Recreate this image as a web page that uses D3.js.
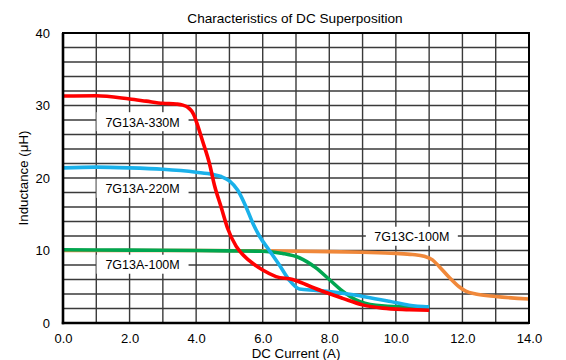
<!DOCTYPE html>
<html><head><meta charset="utf-8">
<script src="https://cdn.jsdelivr.net/npm/d3@7/dist/d3.min.js"></script>
<style>body{margin:0;background:#fff}svg{display:block}text{font-family:"Liberation Sans",Arial,sans-serif}</style>
</head><body><svg id="c" width="566" height="360"></svg>
<script>
const title = "Characteristics of DC Superposition";
const xLabel = "DC Current (A)";
const yLabel = "Inductance (\u03bcH)";
const xTicks = [0, 2, 4, 6, 8, 10, 12, 14];
const yTicks = [0, 10, 20, 30, 40];
const seriesNames = ["7G13C-100M", "7G13A-100M", "7G13A-220M", "7G13A-330M"];
const seriesColors = ["#f0883a", "#00a650", "#1ab1ea", "#ff0000"];
const c100 = [[0,10.0],[2,10.0],[4,10.0],[6,9.95],[8,9.85],[9,9.75],[10,9.6],[10.5,9.45],[10.85,9.2],[11.1,8.7],[11.3,7.8],[11.6,6.3],[11.9,5.0],[12.1,4.4],[12.4,4.0],[13.0,3.65],[14,3.3]];
const a100 = [[0,10.1],[2,10.05],[4,10.0],[5,9.95],[6,9.9],[6.6,9.6],[7.1,9.0],[7.6,7.6],[8.0,6.0],[8.4,4.4],[8.8,3.2],[9.4,2.45],[10.1,2.25],[11.0,2.25]];
const a220 = [[0,21.4],[1,21.5],[2,21.4],[3,21.2],[4,20.8],[4.5,20.5],[4.75,20.2],[5.0,19.6],[5.25,18.3],[5.5,16],[5.7,13.8],[5.9,12],[6.2,10],[6.5,8],[6.8,5.9],[7.1,4.7],[7.6,4.5],[8.4,4.1],[9.1,3.6],[9.8,3.0],[10.4,2.45],[11.0,2.2]];
const a330 = [[0,31.3],[1,31.35],[2,30.9],[2.5,30.6],[3,30.3],[3.4,30.2],[3.6,30.05],[3.75,29.75],[3.87,29.2],[3.95,28.5],[4.02,27.6],[4.2,25],[4.4,22],[4.55,19],[4.75,16],[4.95,13],[5.2,10.6],[5.6,8.6],[6.0,7.3],[6.4,6.4],[6.9,6.0],[7.4,5.1],[7.9,4.2],[8.4,3.4],[9.0,2.5],[9.6,2.05],[10.4,1.85],[11.0,1.75]];
const seriesData = [c100, a100, a220, a330];
// label anchors in data units (centre of label)
const labelX = [10.48, 2.39, 2.39, 2.39];
const labelY = [11.9, 8.04, 18.5, 27.7];

const svg = d3.select("#c");
const m = {l: 63, r: 37, t: 33, b: 37};
const W = 566, H = 360;
const x = d3.scaleLinear().domain([0, 14]).range([m.l, W - m.r]);
const y = d3.scaleLinear().domain([0, 40]).range([H - m.b, m.t]);

// grid
const g = svg.append("g");
g.selectAll("line.v").data(d3.range(1, 14)).join("line")
  .attr("x1", d => x(d)).attr("x2", d => x(d)).attr("y1", y(0)).attr("y2", y(40))
  .attr("stroke", "#3a3a3a").attr("stroke-width", 1.4);
g.selectAll("line.h").data(d3.range(2, 40, 2)).join("line")
  .attr("y1", d => y(d)).attr("y2", d => y(d)).attr("x1", x(0)).attr("x2", x(14))
  .attr("stroke", "#3a3a3a").attr("stroke-width", 1.4);

// axes (labels only)
const xa = svg.append("g").attr("transform", `translate(0,${y(0)})`)
  .call(d3.axisBottom(x).tickValues(xTicks).tickFormat(d3.format(".1f")).tickSize(0).tickPadding(11));
xa.select(".domain").remove();
xa.selectAll("text").attr("font-size", 13).attr("fill", "#000").attr("font-family", "Liberation Sans, Arial, sans-serif");
const ya = svg.append("g").attr("transform", `translate(${x(0)},0)`)
  .call(d3.axisLeft(y).tickValues(yTicks).tickFormat(d3.format("d")).tickSize(0).tickPadding(13));
ya.select(".domain").remove();
ya.selectAll("text").attr("font-size", 13).attr("fill", "#000").attr("font-family", "Liberation Sans, Arial, sans-serif");

// curves
const line = d3.line().x(d => x(d[0])).y(d => y(d[1])).curve(d3.curveMonotoneX);
svg.append("g").selectAll("path").data(seriesData).join("path")
  .attr("d", line).attr("fill", "none")
  .attr("stroke", (d, i) => seriesColors[i]).attr("stroke-width", 3.6)
  .attr("stroke-linejoin", "round");

// labels
const lab = svg.append("g").selectAll("g").data(seriesNames).join("g")
  .attr("transform", (d, i) => `translate(${x(labelX[i])},${y(labelY[i])})`);
lab.append("rect").attr("x", -46).attr("y", -10).attr("width", 92).attr("height", 19).attr("fill", "#fff");
lab.append("text").text(d => d).attr("text-anchor", "middle").attr("dy", "0.36em")
  .attr("font-size", 12.5).attr("fill", "#000");

// frame
svg.append("rect").attr("x", x(0)).attr("y", y(40)).attr("width", x(14) - x(0)).attr("height", y(0) - y(40))
  .attr("fill", "none").attr("stroke", "#000").attr("stroke-width", 2);
svg.append("line").attr("x1", x(0)).attr("x2", x(0)).attr("y1", y(40)).attr("y2", y(0) + 1.2).attr("stroke", "#000").attr("stroke-width", 2.6);
svg.append("line").attr("x1", x(0) - 1.2).attr("x2", x(14)).attr("y1", y(0)).attr("y2", y(0)).attr("stroke", "#000").attr("stroke-width", 2.6);

// titles
svg.append("text").text(title).attr("x", 295).attr("y", 23).attr("text-anchor", "middle").attr("font-size", 13.6);
svg.append("text").text(xLabel).attr("x", (x(0) + x(14)) / 2).attr("y", 358).attr("text-anchor", "middle").attr("font-size", 13.3);
svg.append("text").text(yLabel).attr("transform", `translate(28,${(y(0) + y(40)) / 2}) rotate(-90)`).attr("text-anchor", "middle").attr("font-size", 13.3);
</script></body></html>
